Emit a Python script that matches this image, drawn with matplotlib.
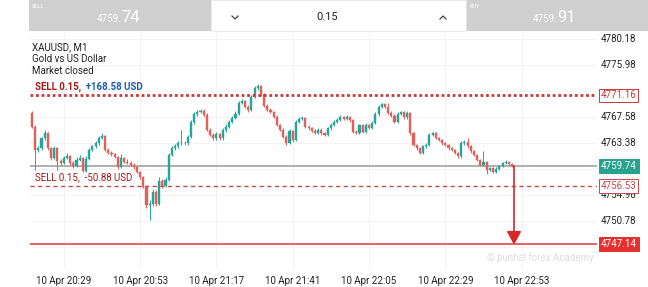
import matplotlib
matplotlib.use("Agg")
import matplotlib.pyplot as plt
from matplotlib.patches import Rectangle, Polygon
from matplotlib.lines import Line2D

plt.rcParams['font.family'] = ['Roboto', 'DejaVu Sans']

# XAUUSD M1 candles, 10 Apr 20:19 .. 22:50
opens = [4768.3, 4766.1, 4762.3, 4762.6, 4764.2, 4765.0, 4762.6, 4761.0, 4762.6, 4760.5,
         4760.2, 4761.0, 4761.3, 4760.2, 4759.7, 4760.7, 4761.0, 4759.0, 4760.9, 4762.3,
         4762.9, 4763.4, 4764.3, 4764.6, 4762.4, 4761.9, 4761.6, 4761.2, 4759.6, 4761.0,
         4760.4, 4760.2, 4759.9, 4759.5, 4758.8, 4757.9, 4756.4, 4753.4, 4753.6, 4755.5,
         4753.6, 4757.3, 4756.5, 4757.5, 4761.5, 4762.6, 4762.9, 4763.4, 4763.5, 4763.4,
         4764.5, 4766.8, 4768.1, 4768.5, 4768.7, 4768.0, 4765.6, 4764.8, 4764.2, 4764.9,
         4764.2, 4765.5, 4766.1, 4766.9, 4767.5, 4768.2, 4769.9, 4770.2, 4769.3, 4768.8,
         4770.9, 4772.3, 4772.6, 4771.3, 4769.5, 4768.8, 4768.5, 4767.7, 4766.4, 4765.6,
         4764.5, 4763.5, 4765.4, 4763.9, 4766.9, 4767.3, 4767.5, 4766.1, 4765.8, 4765.4,
         4765.1, 4765.6, 4765.0, 4764.8, 4765.8, 4766.4, 4766.9, 4767.2, 4767.7, 4767.3,
         4767.7, 4767.1, 4765.3, 4765.1, 4766.3, 4765.3, 4766.4, 4765.9, 4766.7, 4768.1,
         4769.3, 4769.7, 4769.3, 4768.3, 4767.9, 4766.9, 4768.2, 4768.5, 4767.6, 4768.3,
         4765.0, 4763.1, 4762.6, 4761.8, 4762.9, 4763.1, 4764.8, 4765.0, 4764.3, 4763.9,
         4763.4, 4763.1, 4762.6, 4762.3, 4761.8, 4761.3, 4763.4, 4763.6, 4762.9, 4762.1,
         4761.5, 4760.7, 4759.9, 4760.4, 4759.1, 4759.4, 4758.8, 4759.3, 4759.7, 4760.2,
         4760.4, 4760.1]
closes = [4766.1, 4762.3, 4762.6, 4764.2, 4765.0, 4762.6, 4761.0, 4762.6, 4760.5, 4760.2,
          4761.0, 4761.3, 4760.2, 4759.7, 4760.7, 4761.0, 4759.0, 4760.9, 4762.3, 4762.9,
          4763.4, 4764.3, 4764.6, 4762.4, 4761.9, 4761.6, 4761.2, 4759.6, 4761.0, 4760.4,
          4760.2, 4759.9, 4759.5, 4758.8, 4757.9, 4756.4, 4753.4, 4753.6, 4755.5, 4753.6,
          4757.3, 4756.5, 4757.5, 4761.5, 4762.6, 4762.9, 4763.4, 4763.5, 4763.4, 4764.5,
          4766.8, 4768.1, 4768.5, 4768.7, 4768.0, 4765.6, 4764.8, 4764.2, 4764.9, 4764.2,
          4765.5, 4766.1, 4766.9, 4767.5, 4768.2, 4769.9, 4770.2, 4769.3, 4768.8, 4770.9,
          4772.3, 4772.6, 4771.3, 4769.5, 4768.8, 4768.5, 4767.7, 4766.4, 4765.6, 4764.5,
          4763.5, 4765.4, 4763.9, 4766.9, 4767.3, 4767.5, 4766.1, 4765.8, 4765.4, 4765.1,
          4765.6, 4765.0, 4764.8, 4765.8, 4766.4, 4766.9, 4767.2, 4767.7, 4767.3, 4767.7,
          4767.1, 4765.3, 4765.1, 4766.3, 4765.3, 4766.4, 4765.9, 4766.7, 4768.1, 4769.3,
          4769.7, 4769.3, 4768.3, 4767.9, 4766.9, 4768.2, 4768.5, 4767.6, 4768.3, 4765.0,
          4763.1, 4762.6, 4761.8, 4762.9, 4763.1, 4764.8, 4765.0, 4764.3, 4763.9, 4763.4,
          4763.1, 4762.6, 4762.3, 4761.8, 4761.3, 4763.4, 4763.6, 4762.9, 4762.1, 4761.5,
          4760.7, 4759.9, 4760.4, 4759.1, 4759.4, 4758.8, 4759.3, 4759.7, 4760.2, 4760.4,
          4760.1, 4759.74]
highs = [4768.6, 4766.3, 4763.0, 4764.5, 4765.6, 4765.2, 4762.8, 4763.0, 4762.8, 4760.9,
         4761.4, 4761.9, 4761.5, 4760.5, 4761.2, 4761.5, 4761.2, 4761.3, 4762.6, 4763.2,
         4763.7, 4764.6, 4765.0, 4764.8, 4762.7, 4762.1, 4761.9, 4761.4, 4761.6, 4761.2,
         4760.8, 4760.5, 4760.2, 4759.7, 4759.0, 4758.1, 4756.6, 4754.3, 4756.0, 4755.8,
         4757.9, 4757.6, 4758.0, 4761.8, 4762.9, 4763.3, 4763.7, 4765.6, 4763.8, 4764.8,
         4767.1, 4768.4, 4768.8, 4769.0, 4768.9, 4768.3, 4765.9, 4765.1, 4765.2, 4765.1,
         4765.8, 4766.5, 4767.2, 4767.8, 4768.6, 4770.2, 4770.6, 4770.4, 4769.6, 4771.2,
         4772.7, 4773.0, 4772.9, 4771.5, 4769.8, 4769.1, 4768.7, 4768.0, 4766.6, 4765.8,
         4764.7, 4765.7, 4765.6, 4767.1, 4767.6, 4767.8, 4767.7, 4766.3, 4766.0, 4765.7,
         4765.9, 4765.8, 4765.2, 4766.1, 4766.7, 4767.1, 4767.5, 4768.0, 4767.9, 4768.0,
         4767.9, 4767.3, 4765.6, 4766.6, 4766.5, 4766.7, 4766.6, 4767.0, 4768.4, 4769.6,
         4770.0, 4769.9, 4770.0, 4768.6, 4768.1, 4768.5, 4768.7, 4768.7, 4768.6, 4768.5,
         4765.2, 4763.3, 4762.8, 4763.1, 4763.4, 4765.1, 4765.3, 4765.2, 4764.5, 4764.1,
         4763.6, 4763.3, 4762.8, 4762.5, 4762.0, 4763.7, 4763.9, 4764.3, 4763.1, 4762.3,
         4761.7, 4760.9, 4762.1, 4760.6, 4759.6, 4759.6, 4759.5, 4759.9, 4760.4, 4760.7,
         4760.6, 4760.3]
lows = [4765.9, 4759.1, 4762.0, 4762.4, 4764.0, 4762.4, 4760.7, 4760.8, 4759.1, 4759.9,
        4760.0, 4760.8, 4759.9, 4759.4, 4759.5, 4760.5, 4758.8, 4758.8, 4760.7, 4762.1,
        4762.7, 4763.2, 4764.1, 4762.2, 4761.7, 4761.4, 4761.0, 4759.3, 4759.4, 4760.2,
        4760.0, 4759.7, 4759.3, 4758.6, 4757.7, 4756.2, 4752.9, 4751.0, 4753.3, 4753.2,
        4753.4, 4756.2, 4756.3, 4757.3, 4761.3, 4762.4, 4762.7, 4763.2, 4763.1, 4763.2,
        4764.3, 4766.6, 4767.9, 4768.3, 4767.8, 4765.4, 4764.6, 4764.0, 4764.0, 4763.9,
        4764.0, 4765.3, 4765.9, 4766.7, 4767.3, 4768.0, 4769.7, 4769.1, 4768.5, 4768.6,
        4770.7, 4772.1, 4771.1, 4769.3, 4768.6, 4768.3, 4767.5, 4766.2, 4765.4, 4764.3,
        4763.1, 4763.3, 4763.6, 4763.7, 4766.7, 4767.1, 4765.9, 4765.6, 4765.2, 4764.9,
        4764.9, 4764.8, 4764.6, 4764.6, 4765.6, 4766.2, 4766.7, 4767.0, 4767.1, 4767.1,
        4766.9, 4765.1, 4764.9, 4764.9, 4765.1, 4765.1, 4765.7, 4765.7, 4766.5, 4767.9,
        4769.1, 4769.1, 4768.1, 4767.7, 4766.7, 4766.7, 4768.0, 4767.4, 4767.4, 4764.8,
        4762.9, 4762.4, 4761.6, 4761.6, 4762.7, 4762.9, 4764.6, 4764.1, 4763.7, 4763.2,
        4762.9, 4762.4, 4762.1, 4761.6, 4761.1, 4761.1, 4763.2, 4762.7, 4761.9, 4761.3,
        4760.5, 4759.7, 4759.7, 4758.4, 4758.9, 4758.6, 4758.6, 4759.1, 4759.5, 4760.0,
        4759.9, 4759.6]

price_ticks = [4780.18, 4775.98, 4771.78, 4767.58, 4763.38, 4759.18, 4754.98, 4750.78, 4746.58]
# tick labels hidden behind the order / price boxes in the app
hidden_ticks = [4771.78, 4759.18, 4746.58]
time_ticks = [10, 34, 58, 82, 106, 130, 154]
time_labels = ['10 Apr 20:29', '10 Apr 20:53', '10 Apr 21:17', '10 Apr 21:41',
               '10 Apr 22:05', '10 Apr 22:29', '10 Apr 22:53']

sell_price = '4759.74'
buy_price = '4759.91'
lot = '0.15'
bid = 4759.74
order1 = 4771.16
order2 = 4756.53
target = 4747.14

W, H = 648, 287
BULL = '#26a69a'
BEAR = '#e0605c'
fig = plt.figure(figsize=(W / 100, H / 100), dpi=100, facecolor='white')

def fx(px):
    return px / W

def fy(py):
    return 1 - py / H

# top trade bar
fig.add_artist(Rectangle((fx(29), fy(31)), fx(182), 31 / H, color='#cfcfcf', lw=0))
fig.add_artist(Rectangle((fx(466), fy(31)), fx(182), 31 / H, color='#cfcfcf', lw=0))
fig.add_artist(Rectangle((fx(211), fy(31)), fx(255), 31 / H, facecolor='white',
                         edgecolor='#e6e6e6', lw=0.6))
fig.text(fx(32), fy(6), 'SELL', color='white', fontsize=4, va='center')
fig.text(fx(470), fy(6), 'BUY', color='white', fontsize=4, va='center')
fig.text(fx(121), fy(22), sell_price[:5], color='white', fontsize=7, ha='right', va='baseline')
fig.text(fx(121), fy(22), sell_price[5:], color='white', fontsize=12, ha='left', va='baseline')
fig.text(fx(557), fy(22), buy_price[:5], color='white', fontsize=7, ha='right', va='baseline')
fig.text(fx(557), fy(22), buy_price[5:], color='white', fontsize=12, ha='left', va='baseline')
fig.text(fx(327), fy(17), lot, color='#222222', fontsize=8, ha='center', va='center')
fig.add_artist(Line2D([fx(232), fx(235), fx(238)], [fy(16), fy(19), fy(16)], color='#444444', lw=0.9))
fig.add_artist(Line2D([fx(440), fx(443), fx(446)], [fy(19), fy(16), fy(19)], color='#444444', lw=0.9))

# chart
ax = fig.add_axes([fx(30), fy(268), fx(567), 235 / H])
n = len(closes)
for i in range(n):
    o, c = opens[i], closes[i]
    col = BULL if c >= o else BEAR
    ax.vlines(i, lows[i], highs[i], color=col, lw=0.7, zorder=3)
    ax.add_patch(Rectangle((i - 0.33, min(o, c)), 0.66, max(abs(c - o), 0.08),
                           facecolor=col, edgecolor=col, lw=0.3, zorder=3))

ax.axhline(order1, color='#c8393b', lw=2.0, ls=(0, (1, 1)), zorder=4)
ax.axhline(bid, color='#9a9a9a', lw=1.1, zorder=2)
ax.axhline(order2, color='#c8494b', lw=1.0, ls=(0, (3, 2.5)), zorder=4)
ax.axhline(target, color='#e03a3a', lw=1.1, zorder=4)

# arrow from last price down to target
ax_x = n - 0.4
ax.plot([ax_x, ax_x], [bid, target + 1.9], color='#d62828', lw=1.2, zorder=5)
ax.add_patch(Polygon([[ax_x - 2.0, target + 2.0], [ax_x + 2.0, target + 2.0], [ax_x, target + 0.1]],
                     closed=True, color='#d62828', zorder=5))

ax.set_xlim(-0.63, 177.7)
ax.set_ylim(4743.26, 4781.23)
for s in ax.spines.values():
    s.set_visible(False)
ax.set_yticks(price_ticks)
ax.set_yticklabels([])
ax.set_xticks(time_ticks)
ax.set_xticklabels(time_labels, fontsize=7, color='#222222')
ax.tick_params(length=0, pad=6)
ax.grid(True, color='#f1f1f1', lw=0.6, zorder=0)
for p in price_ticks:
    if p in hidden_ticks:
        continue
    ax.text(1.006, p, '%.2f' % p, transform=ax.get_yaxis_transform(), fontsize=7,
            color='#222222', va='center', ha='left', clip_on=False, zorder=3)

def price_box(p, fc, ec, tc):
    ax.text(1.007, p, '%.2f' % p, transform=ax.get_yaxis_transform(), fontsize=7, color=tc,
            va='center', ha='left', clip_on=False, zorder=6,
            bbox=dict(boxstyle='square,pad=0.18', fc=fc, ec=ec, lw=0.7))

price_box(order1, 'white', '#c8393b', '#c8393b')
price_box(bid, '#26a28e', '#26a28e', 'white')
price_box(order2, 'white', '#c8494b', '#c8494b')
price_box(target, '#e53030', '#e53030', 'white')

# header text
ax.text(0.004, 0.96, 'XAUUSD, M1\nGold vs US Dollar\nMarket closed', transform=ax.transAxes,
        fontsize=7, color='#222222', va='top', ha='left', linespacing=1.25)

# order labels
t1 = ax.text(1.0, order1 + 0.55, 'SELL 0.15,', fontsize=7, color='#a81818', fontweight='bold',
             va='bottom', ha='left', zorder=6)
ax.annotate('  +168.58 USD', xy=(1, 0), xycoords=t1, fontsize=7, color='#1a5fb4',
            fontweight='bold', va='bottom', ha='left', zorder=6)
ax.text(1.0, order2 + 0.6, 'SELL 0.15,  -50.88 USD', fontsize=7, color='#a01818',
        va='bottom', ha='left', zorder=6)

# watermark
ax.text(0.995, 0.02, '© punhal forex Academy', transform=ax.transAxes, fontsize=7,
        color='#dcdcdc', ha='right', va='bottom', zorder=1)

fig.savefig('out.png', dpi=100, facecolor='white')
